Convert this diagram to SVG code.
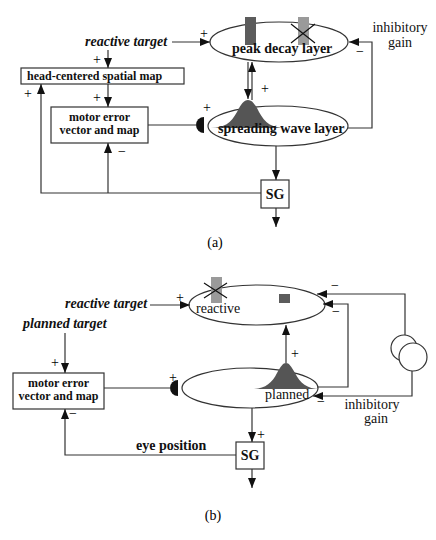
<svg xmlns="http://www.w3.org/2000/svg" width="436" height="540" viewBox="0 0 436 540">
<style>
.ln{fill:none;stroke:#333;stroke-width:1.2}
.arr{fill:none;stroke:#333;stroke-width:1.2;marker-end:url(#ah)}
.box{fill:#fff;stroke:#333;stroke-width:1.2}
.ell{fill:#fff;stroke:#333;stroke-width:1.2}
.b{font-family:"Liberation Serif","Times New Roman",serif;font-weight:bold;font-size:12px;fill:#111}
.bl{font-family:"Liberation Serif","Times New Roman",serif;font-weight:bold;font-size:14px;fill:#111}
.bi{font-family:"Liberation Serif","Times New Roman",serif;font-weight:bold;font-style:italic;font-size:14px;fill:#111}
.n{font-family:"Liberation Serif","Times New Roman",serif;font-size:14px;fill:#111}
.s{font-family:"Liberation Serif","Times New Roman",serif;font-size:14px;fill:#000;text-anchor:middle}
.g{fill:#555}
</style>
<defs>
<marker id="ah" markerUnits="userSpaceOnUse" markerWidth="11" markerHeight="9" refX="10" refY="4" orient="auto">
<path d="M0,0 L10,4 L0,8 Z" fill="#111"/>
</marker>
</defs>
<rect width="436" height="540" fill="#fff"/>

<!-- ===== (a) ===== -->
<g id="a-reactive-target"><text class="bi" x="85" y="46">reactive target</text></g>
<g id="a-head-map"><rect class="box" x="21" y="68" width="163" height="16"/><text class="b" x="27" y="80">head-centered spatial map</text></g>
<g id="a-motor"><rect class="box" x="51" y="107" width="97" height="36"/><text class="b" x="99.5" y="121" text-anchor="middle">motor error</text><text class="b" x="99.5" y="134" text-anchor="middle">vector and map</text></g>
<g id="a-peak"><ellipse class="ell" cx="279" cy="42" rx="69" ry="20"/><rect x="245" y="17" width="11" height="28" fill="#5c5c5c"/><rect x="298" y="17" width="11" height="28" fill="#9a9a9a"/><path d="M291,24 L315,43 M315,24 L291,43" stroke="#111" stroke-width="1.2"/><text class="bl" x="232" y="53">peak decay layer</text></g>
<g id="a-spread"><ellipse class="ell" cx="278" cy="126" rx="70" ry="20"/><path class="g" d="M211,128 C224,128 231,123 237,112 C241,104 244,100 248,100 C252,100 255,104 259,112 C265,123 272,128 285,128 Z"/><text class="bl" x="218" y="133">spreading wave layer</text></g>
<g id="a-sg"><rect class="box" x="261" y="180" width="28" height="28"/><text class="bl" x="275" y="199" text-anchor="middle">SG</text></g>
<g id="a-gain"><text class="n" x="400" y="32" text-anchor="middle">inhibitory</text><text class="n" x="400" y="47" text-anchor="middle">gain</text></g>
<g id="a-synapse"><path d="M204,117 A8,8 0 0 0 204,133 Z" fill="#111"/></g>
<text class="s" x="215" y="247">(a)</text>

<g id="a-connectors">
<path class="arr" d="M172,42 L210,42"/>
<path class="arr" d="M108,50 L108,68"/>
<path class="arr" d="M108,84 L108,107"/>
<path class="ln" d="M148,125 L197,125"/>
<path class="arr" d="M248,62 L248,99"/>
<path class="arr" d="M252,100 L252,62"/>
<path class="arr" d="M348,128 L372,128 L372,42 L349,42"/>
<path class="arr" d="M276,146 L276,180"/>
<path class="arr" d="M276,208 L276,227"/>
<path class="arr" d="M261,193 L41,193 L41,84"/>
<path class="arr" d="M108,193 L108,143"/>
</g>
<g id="a-signs">
<text class="s" x="204" y="38">+</text>
<text class="s" x="97" y="64">+</text>
<text class="s" x="97" y="102">+</text>
<text class="s" x="28" y="98">+</text>
<text class="s" x="207" y="112">+</text>
<text class="s" x="265" y="93">+</text>
<text class="s" x="360" y="56">−</text>
<text class="s" x="122" y="156">−</text>
</g>

<!-- ===== (b) ===== -->
<g id="b-reactive-target"><text class="bi" x="65" y="308">reactive target</text></g>
<g id="b-planned-target"><text class="bi" x="23" y="328">planned target</text></g>
<g id="b-motor"><rect class="box" x="13" y="373" width="91" height="36"/><text class="b" x="58.5" y="387" text-anchor="middle">motor error</text><text class="b" x="58.5" y="400" text-anchor="middle">vector and map</text></g>
<g id="b-reactive"><ellipse class="ell" cx="257" cy="305" rx="68" ry="20"/><rect x="211" y="277" width="11" height="26" fill="#9a9a9a"/><path d="M204,283 L227,298 M227,283 L204,298" stroke="#111" stroke-width="1.2"/><rect x="279" y="294" width="11" height="9" fill="#5c5c5c"/><text class="n" x="196" y="313">reactive</text></g>
<g id="b-planned"><ellipse class="ell" cx="250" cy="388" rx="68" ry="20"/><path class="g" d="M252,389 C265,389 272,383 277,373 C281,366 283,363 286,363 C289,363 291,366 295,373 C300,383 307,389 320,389 Z"/><text class="n" x="265" y="399">planned</text></g>
<g id="b-gain-unit"><circle cx="404" cy="348" r="13" fill="#fff" stroke="#333" stroke-width="1.2"/><circle cx="413" cy="357" r="14" fill="#fff" stroke="#333" stroke-width="1.2"/></g>
<g id="b-gain"><text class="n" x="372" y="409" text-anchor="middle">inhibitory</text><text class="n" x="376" y="423" text-anchor="middle">gain</text></g>
<g id="b-sg"><rect class="box" x="236" y="442" width="28" height="27"/><text class="bl" x="250" y="460" text-anchor="middle">SG</text></g>
<g id="b-eye"><text class="bl" x="136" y="450">eye position</text></g>
<g id="b-synapse"><path d="M178,380 A8,8 0 0 0 178,396 Z" fill="#111"/></g>
<text class="s" x="213" y="520">(b)</text>

<g id="b-connectors">
<path class="arr" d="M150,305 L190,305"/>
<path class="arr" d="M65,333 L65,373"/>
<path class="ln" d="M104,388 L171,388"/>
<path class="arr" d="M286,363 L286,325"/>
<path class="arr" d="M405,335 L405,294 L317,294"/>
<path class="arr" d="M317,387 L348,387 L348,304 L323,304"/>
<path class="arr" d="M412,371 L412,396 L313,396"/>
<path class="arr" d="M252,408 L252,442"/>
<path class="arr" d="M252,469 L252,488"/>
<path class="arr" d="M236,455 L65,455 L65,409"/>
</g>
<g id="b-signs">
<text class="s" x="180" y="302">+</text>
<text class="s" x="55" y="367">+</text>
<text class="s" x="173" y="382">+</text>
<text class="s" x="295" y="358">+</text>
<text class="s" x="335" y="290">−</text>
<text class="s" x="336" y="316">−</text>
<text class="s" x="321" y="406">−</text>
<text class="s" x="261" y="439">+</text>
<text class="s" x="73" y="418">−</text>
</g>
</svg>
